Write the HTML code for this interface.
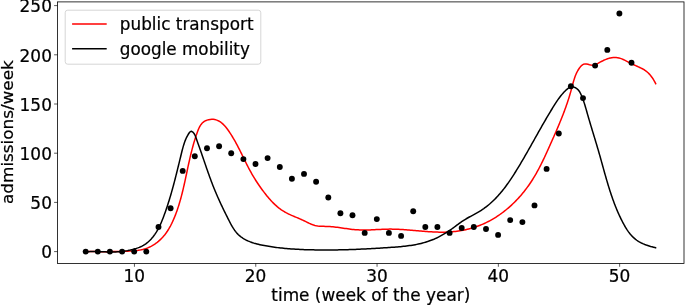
<!DOCTYPE html>
<html><head><meta charset="utf-8"><title>admissions per week</title>
<style>html,body{margin:0;padding:0;background:#fff}svg{display:block}text{font-family:"DejaVu Sans","Liberation Sans",sans-serif;fill:#000;stroke:#000;stroke-width:0.22px}</style></head>
<body>
<svg width="685" height="305" viewBox="0 0 685 305">
<rect width="685" height="305" fill="#fff"/>
<path d="M85.68 251.59 L87.21 251.59 L88.73 251.60 L90.24 251.60 L91.75 251.61 L93.26 251.62 L94.76 251.62 L96.26 251.63 L97.76 251.63 L99.25 251.64 L100.75 251.64 L102.24 251.65 L103.73 251.65 L105.22 251.65 L106.70 251.64 L108.19 251.64 L109.68 251.63 L111.17 251.61 L112.65 251.60 L114.14 251.58 L115.63 251.55 L117.13 251.53 L118.62 251.49 L120.12 251.46 L121.62 251.41 L123.12 251.37 L124.63 251.31 L126.14 251.25 L127.65 251.19 L129.17 251.11 L130.69 251.03 L132.21 250.93 L133.73 250.81 L135.25 250.67 L136.76 250.51 L138.26 250.31 L139.75 250.07 L141.22 249.79 L142.69 249.47 L144.13 249.09 L145.55 248.67 L146.95 248.18 L148.33 247.63 L149.68 247.03 L151.00 246.37 L152.30 245.66 L153.58 244.90 L154.82 244.09 L156.04 243.23 L157.22 242.33 L158.38 241.38 L159.51 240.39 L160.60 239.37 L161.66 238.31 L162.69 237.21 L163.68 236.08 L164.64 234.92 L165.56 233.73 L166.45 232.52 L167.30 231.28 L168.12 230.01 L168.91 228.73 L169.66 227.43 L170.39 226.11 L171.09 224.77 L171.77 223.42 L172.42 222.05 L173.04 220.68 L173.65 219.30 L174.24 217.90 L174.81 216.51 L175.36 215.11 L175.89 213.70 L176.42 212.29 L176.92 210.88 L177.41 209.46 L177.89 208.05 L178.36 206.62 L178.81 205.20 L179.25 203.77 L179.68 202.34 L180.09 200.90 L180.50 199.47 L180.90 198.03 L181.28 196.58 L181.66 195.14 L182.03 193.69 L182.39 192.25 L182.75 190.79 L183.10 189.34 L183.44 187.89 L183.77 186.43 L184.11 184.97 L184.43 183.52 L184.75 182.06 L185.07 180.59 L185.39 179.13 L185.70 177.67 L186.02 176.21 L186.33 174.74 L186.64 173.28 L186.95 171.81 L187.26 170.34 L187.57 168.88 L187.88 167.41 L188.20 165.94 L188.51 164.48 L188.83 163.01 L189.16 161.55 L189.49 160.08 L189.82 158.62 L190.16 157.15 L190.50 155.69 L190.85 154.23 L191.21 152.77 L191.57 151.31 L191.95 149.85 L192.33 148.39 L192.72 146.94 L193.12 145.48 L193.53 144.03 L193.95 142.58 L194.38 141.13 L194.82 139.69 L195.28 138.24 L195.75 136.80 L196.23 135.36 L196.73 133.92 L197.24 132.49 L197.77 131.06 L198.32 129.64 L198.91 128.26 L199.57 126.92 L200.30 125.64 L201.12 124.43 L202.04 123.32 L203.09 122.32 L204.28 121.44 L205.62 120.70 L207.09 120.11 L208.64 119.67 L210.22 119.39 L211.77 119.27 L213.27 119.32 L214.70 119.52 L216.08 119.87 L217.40 120.35 L218.67 120.95 L219.89 121.67 L221.07 122.49 L222.20 123.40 L223.28 124.40 L224.33 125.47 L225.34 126.60 L226.32 127.78 L227.27 129.01 L228.18 130.26 L229.07 131.54 L229.94 132.83 L230.78 134.13 L231.60 135.43 L232.41 136.73 L233.19 138.04 L233.96 139.35 L234.71 140.66 L235.45 141.98 L236.17 143.30 L236.89 144.63 L237.59 145.95 L238.28 147.28 L238.96 148.61 L239.63 149.94 L240.30 151.27 L240.96 152.61 L241.62 153.94 L242.27 155.27 L242.93 156.60 L243.58 157.94 L244.23 159.27 L244.89 160.60 L245.55 161.93 L246.21 163.26 L246.87 164.58 L247.55 165.91 L248.23 167.23 L248.92 168.55 L249.62 169.86 L250.33 171.17 L251.06 172.48 L251.79 173.79 L252.54 175.09 L253.31 176.38 L254.08 177.67 L254.87 178.95 L255.67 180.23 L256.49 181.51 L257.31 182.77 L258.15 184.03 L259.00 185.28 L259.86 186.53 L260.74 187.76 L261.62 188.99 L262.51 190.21 L263.42 191.42 L264.34 192.63 L265.26 193.82 L266.20 195.00 L267.15 196.17 L268.11 197.33 L269.08 198.47 L270.07 199.60 L271.08 200.71 L272.10 201.80 L273.14 202.86 L274.20 203.90 L275.28 204.92 L276.38 205.91 L277.50 206.88 L278.64 207.81 L279.81 208.71 L281.00 209.58 L282.22 210.42 L283.47 211.22 L284.74 211.98 L286.04 212.70 L287.37 213.39 L288.71 214.05 L290.08 214.69 L291.46 215.31 L292.85 215.92 L294.25 216.51 L295.65 217.09 L297.06 217.68 L298.47 218.26 L299.88 218.86 L301.28 219.46 L302.66 220.08 L304.04 220.72 L305.40 221.38 L306.76 222.05 L308.10 222.71 L309.45 223.36 L310.80 223.97 L312.16 224.53 L313.54 225.03 L314.94 225.45 L316.37 225.78 L317.83 226.01 L319.31 226.17 L320.81 226.26 L322.32 226.32 L323.85 226.35 L325.37 226.38 L326.90 226.41 L328.42 226.47 L329.93 226.55 L331.44 226.67 L332.95 226.80 L334.45 226.96 L335.94 227.14 L337.43 227.33 L338.92 227.53 L340.41 227.74 L341.89 227.96 L343.37 228.18 L344.85 228.40 L346.33 228.61 L347.81 228.82 L349.29 229.02 L350.77 229.21 L352.25 229.39 L353.74 229.54 L355.23 229.68 L356.71 229.79 L358.21 229.87 L359.70 229.94 L361.20 229.98 L362.69 230.01 L364.19 230.01 L365.69 230.01 L367.19 229.98 L368.69 229.95 L370.19 229.90 L371.69 229.84 L373.18 229.77 L374.68 229.70 L376.17 229.62 L377.67 229.54 L379.16 229.46 L380.65 229.39 L382.14 229.32 L383.64 229.25 L385.13 229.20 L386.62 229.16 L388.12 229.13 L389.61 229.12 L391.10 229.12 L392.60 229.14 L394.09 229.17 L395.59 229.22 L397.09 229.28 L398.58 229.34 L400.08 229.42 L401.58 229.51 L403.07 229.61 L404.57 229.71 L406.07 229.82 L407.57 229.93 L409.07 230.06 L410.57 230.18 L412.06 230.31 L413.56 230.44 L415.06 230.57 L416.56 230.70 L418.06 230.83 L419.56 230.96 L421.06 231.09 L422.56 231.22 L424.05 231.34 L425.55 231.46 L427.05 231.57 L428.55 231.67 L430.05 231.77 L431.55 231.86 L433.04 231.94 L434.54 232.00 L436.04 232.06 L437.53 232.11 L439.03 232.14 L440.53 232.16 L442.02 232.17 L443.52 232.16 L445.01 232.13 L446.51 232.09 L448.00 232.03 L449.49 231.95 L450.99 231.85 L452.48 231.73 L453.97 231.58 L455.46 231.42 L456.95 231.23 L458.43 231.03 L459.92 230.80 L461.40 230.55 L462.88 230.27 L464.35 229.98 L465.82 229.66 L467.28 229.32 L468.74 228.96 L470.20 228.58 L471.64 228.17 L473.08 227.74 L474.52 227.29 L475.94 226.81 L477.36 226.31 L478.77 225.79 L480.17 225.25 L481.56 224.68 L482.94 224.09 L484.31 223.48 L485.67 222.85 L487.02 222.19 L488.36 221.51 L489.68 220.81 L491.00 220.09 L492.30 219.35 L493.60 218.59 L494.88 217.81 L496.15 217.01 L497.41 216.19 L498.65 215.35 L499.89 214.50 L501.11 213.63 L502.32 212.74 L503.52 211.84 L504.70 210.92 L505.87 209.98 L507.03 209.03 L508.17 208.06 L509.30 207.08 L510.42 206.09 L511.53 205.08 L512.62 204.06 L513.70 203.02 L514.77 201.97 L515.82 200.90 L516.86 199.83 L517.88 198.74 L518.90 197.63 L519.89 196.52 L520.88 195.39 L521.85 194.25 L522.81 193.10 L523.76 191.94 L524.69 190.77 L525.61 189.58 L526.51 188.39 L527.40 187.18 L528.28 185.96 L529.15 184.74 L530.00 183.50 L530.83 182.26 L531.66 181.00 L532.47 179.74 L533.26 178.47 L534.04 177.19 L534.81 175.90 L535.57 174.60 L536.32 173.30 L537.05 171.99 L537.77 170.67 L538.48 169.35 L539.19 168.02 L539.88 166.69 L540.57 165.35 L541.24 164.00 L541.91 162.65 L542.57 161.30 L543.23 159.95 L543.88 158.59 L544.52 157.22 L545.16 155.86 L545.79 154.49 L546.42 153.13 L547.04 151.76 L547.66 150.39 L548.28 149.01 L548.90 147.64 L549.51 146.27 L550.13 144.90 L550.74 143.53 L551.35 142.16 L551.96 140.79 L552.57 139.42 L553.17 138.06 L553.78 136.69 L554.38 135.32 L554.98 133.95 L555.58 132.58 L556.17 131.21 L556.76 129.84 L557.35 128.47 L557.93 127.09 L558.51 125.72 L559.09 124.34 L559.66 122.96 L560.23 121.58 L560.79 120.20 L561.35 118.82 L561.90 117.43 L562.45 116.04 L562.99 114.65 L563.53 113.25 L564.06 111.86 L564.58 110.46 L565.09 109.05 L565.60 107.64 L566.11 106.23 L566.60 104.82 L567.09 103.40 L567.57 101.97 L568.04 100.54 L568.51 99.11 L568.96 97.67 L569.41 96.23 L569.85 94.78 L570.28 93.33 L570.70 91.87 L571.11 90.41 L571.51 88.94 L571.90 87.46 L572.29 85.98 L572.68 84.51 L573.08 83.03 L573.48 81.57 L573.91 80.11 L574.36 78.67 L574.84 77.25 L575.35 75.84 L575.91 74.46 L576.50 73.11 L577.16 71.78 L577.86 70.49 L578.63 69.24 L579.47 68.02 L580.38 66.85 L581.37 65.75 L582.46 64.81 L583.67 64.15 L585.00 63.88 L586.44 63.99 L587.96 64.32 L589.51 64.72 L591.04 65.05 L592.52 65.15 L593.93 64.99 L595.28 64.61 L596.61 64.06 L597.91 63.40 L599.22 62.67 L600.54 61.94 L601.89 61.23 L603.26 60.55 L604.65 59.91 L606.06 59.33 L607.48 58.81 L608.91 58.35 L610.35 57.98 L611.80 57.70 L613.24 57.51 L614.69 57.44 L616.13 57.48 L617.56 57.65 L618.98 57.96 L620.39 58.37 L621.80 58.89 L623.20 59.49 L624.59 60.15 L625.98 60.85 L627.37 61.58 L628.76 62.32 L630.15 63.05 L631.53 63.75 L632.92 64.41 L634.31 65.04 L635.69 65.64 L637.06 66.24 L638.41 66.84 L639.75 67.45 L641.07 68.08 L642.36 68.76 L643.62 69.47 L644.85 70.25 L646.04 71.09 L647.19 72.02 L648.30 73.03 L649.36 74.11 L650.37 75.26 L651.33 76.46 L652.24 77.70 L653.10 78.98 L653.89 80.28 L654.63 81.59 L655.31 82.90 L655.92 84.20 L655.97 84.30" fill="none" stroke="#ff0000" stroke-width="1.5" stroke-linejoin="round"/>
<path d="M85.71 251.78 L87.18 251.69 L88.66 251.63 L90.14 251.59 L91.63 251.57 L93.13 251.57 L94.63 251.58 L96.14 251.60 L97.64 251.63 L99.16 251.67 L100.67 251.71 L102.19 251.75 L103.70 251.80 L105.22 251.84 L106.73 251.88 L108.25 251.91 L109.76 251.93 L111.27 251.94 L112.77 251.94 L114.27 251.92 L115.77 251.88 L117.26 251.82 L118.74 251.74 L120.22 251.63 L121.68 251.49 L123.14 251.32 L124.59 251.12 L126.03 250.88 L127.47 250.62 L128.92 250.32 L130.37 250.00 L131.83 249.64 L133.32 249.26 L134.82 248.84 L136.33 248.40 L137.83 247.91 L139.29 247.36 L140.69 246.76 L142.05 246.10 L143.35 245.38 L144.61 244.61 L145.82 243.78 L146.99 242.91 L148.11 241.98 L149.19 241.02 L150.23 240.00 L151.23 238.95 L152.19 237.86 L153.11 236.72 L154.00 235.56 L154.86 234.36 L155.68 233.13 L156.47 231.87 L157.23 230.58 L157.97 229.27 L158.68 227.94 L159.36 226.59 L160.02 225.22 L160.66 223.83 L161.28 222.43 L161.88 221.01 L162.46 219.59 L163.02 218.16 L163.57 216.72 L164.11 215.28 L164.64 213.84 L165.15 212.40 L165.66 210.96 L166.15 209.52 L166.64 208.09 L167.12 206.65 L167.59 205.22 L168.06 203.78 L168.51 202.35 L168.96 200.92 L169.40 199.49 L169.83 198.06 L170.26 196.63 L170.68 195.20 L171.10 193.78 L171.51 192.35 L171.91 190.92 L172.31 189.49 L172.71 188.06 L173.10 186.63 L173.48 185.20 L173.86 183.77 L174.24 182.33 L174.62 180.90 L174.99 179.46 L175.35 178.03 L175.72 176.59 L176.08 175.15 L176.45 173.71 L176.81 172.26 L177.16 170.82 L177.52 169.37 L177.88 167.92 L178.24 166.47 L178.59 165.01 L178.95 163.56 L179.30 162.10 L179.66 160.63 L180.02 159.17 L180.38 157.70 L180.74 156.22 L181.10 154.75 L181.46 153.26 L181.83 151.78 L182.20 150.30 L182.59 148.82 L182.99 147.34 L183.41 145.87 L183.86 144.41 L184.33 142.97 L184.84 141.54 L185.38 140.13 L185.96 138.75 L186.59 137.39 L187.27 136.06 L188.00 134.76 L188.79 133.49 L189.65 132.29 L190.59 131.45 L191.66 131.35 L192.79 132.03 L193.82 133.16 L194.66 134.50 L195.34 135.97 L195.92 137.50 L196.45 139.03 L196.97 140.51 L197.49 141.96 L197.99 143.38 L198.49 144.78 L198.99 146.16 L199.48 147.54 L199.97 148.92 L200.45 150.30 L200.94 151.69 L201.42 153.09 L201.90 154.49 L202.39 155.89 L202.87 157.30 L203.35 158.71 L203.84 160.13 L204.32 161.54 L204.81 162.96 L205.29 164.38 L205.78 165.81 L206.27 167.23 L206.76 168.66 L207.26 170.08 L207.76 171.51 L208.26 172.93 L208.77 174.36 L209.28 175.78 L209.79 177.20 L210.31 178.61 L210.83 180.03 L211.36 181.44 L211.89 182.85 L212.43 184.25 L212.98 185.65 L213.53 187.05 L214.09 188.44 L214.66 189.82 L215.23 191.20 L215.81 192.58 L216.39 193.95 L216.98 195.32 L217.58 196.69 L218.18 198.05 L218.79 199.41 L219.40 200.76 L220.02 202.12 L220.65 203.47 L221.28 204.82 L221.92 206.17 L222.56 207.52 L223.21 208.87 L223.86 210.22 L224.52 211.57 L225.18 212.91 L225.85 214.26 L226.52 215.61 L227.20 216.96 L227.88 218.32 L228.56 219.67 L229.25 221.03 L229.95 222.38 L230.66 223.73 L231.39 225.06 L232.14 226.38 L232.92 227.68 L233.73 228.94 L234.57 230.18 L235.45 231.37 L236.38 232.53 L237.36 233.63 L238.39 234.69 L239.48 235.68 L240.63 236.62 L241.83 237.49 L243.08 238.31 L244.36 239.08 L245.69 239.80 L247.04 240.47 L248.42 241.09 L249.81 241.67 L251.22 242.20 L252.64 242.70 L254.06 243.16 L255.50 243.58 L256.94 243.98 L258.39 244.35 L259.85 244.69 L261.31 245.01 L262.78 245.31 L264.25 245.59 L265.73 245.86 L267.20 246.11 L268.68 246.36 L270.16 246.59 L271.65 246.82 L273.13 247.03 L274.61 247.24 L276.10 247.43 L277.59 247.62 L279.08 247.79 L280.57 247.96 L282.06 248.12 L283.55 248.27 L285.05 248.41 L286.54 248.55 L288.04 248.68 L289.54 248.79 L291.03 248.91 L292.53 249.01 L294.03 249.11 L295.53 249.20 L297.03 249.29 L298.53 249.37 L300.03 249.44 L301.53 249.51 L303.03 249.57 L304.53 249.63 L306.03 249.68 L307.53 249.72 L309.03 249.77 L310.53 249.81 L312.03 249.84 L313.53 249.87 L315.03 249.90 L316.53 249.92 L318.03 249.94 L319.53 249.96 L321.02 249.97 L322.52 249.98 L324.02 249.98 L325.52 249.99 L327.01 249.98 L328.51 249.98 L330.01 249.97 L331.50 249.96 L333.00 249.95 L334.49 249.93 L335.99 249.91 L337.49 249.88 L338.98 249.86 L340.48 249.83 L341.97 249.79 L343.47 249.76 L344.96 249.72 L346.46 249.68 L347.95 249.64 L349.45 249.59 L350.95 249.54 L352.44 249.49 L353.94 249.43 L355.43 249.38 L356.93 249.32 L358.43 249.25 L359.92 249.19 L361.42 249.12 L362.92 249.05 L364.41 248.98 L365.91 248.91 L367.41 248.83 L368.91 248.75 L370.40 248.67 L371.90 248.59 L373.40 248.51 L374.90 248.42 L376.40 248.33 L377.90 248.24 L379.40 248.15 L380.90 248.05 L382.40 247.96 L383.91 247.86 L385.41 247.76 L386.91 247.66 L388.42 247.56 L389.92 247.46 L391.42 247.35 L392.93 247.24 L394.43 247.13 L395.94 247.01 L397.44 246.89 L398.95 246.77 L400.45 246.63 L401.95 246.49 L403.44 246.33 L404.94 246.17 L406.43 246.00 L407.92 245.81 L409.41 245.61 L410.89 245.39 L412.37 245.16 L413.85 244.92 L415.32 244.65 L416.79 244.37 L418.25 244.07 L419.70 243.74 L421.15 243.40 L422.59 243.03 L424.03 242.64 L425.46 242.23 L426.88 241.79 L428.30 241.33 L429.71 240.83 L431.11 240.31 L432.50 239.76 L433.88 239.19 L435.25 238.58 L436.62 237.96 L437.97 237.30 L439.31 236.63 L440.64 235.93 L441.96 235.21 L443.27 234.47 L444.56 233.71 L445.85 232.92 L447.11 232.12 L448.37 231.31 L449.61 230.47 L450.83 229.62 L452.04 228.75 L453.25 227.88 L454.44 226.99 L455.63 226.11 L456.82 225.22 L458.02 224.34 L459.22 223.46 L460.43 222.59 L461.65 221.74 L462.89 220.90 L464.14 220.08 L465.42 219.29 L466.72 218.52 L468.03 217.76 L469.36 217.02 L470.70 216.29 L472.04 215.56 L473.39 214.84 L474.73 214.11 L476.07 213.37 L477.39 212.63 L478.70 211.86 L480.00 211.08 L481.27 210.28 L482.53 209.45 L483.76 208.60 L484.97 207.72 L486.16 206.83 L487.34 205.91 L488.49 204.97 L489.63 204.02 L490.74 203.04 L491.84 202.05 L492.93 201.03 L493.99 200.00 L495.04 198.95 L496.08 197.89 L497.10 196.81 L498.10 195.71 L499.09 194.60 L500.07 193.48 L501.03 192.34 L501.98 191.19 L502.91 190.03 L503.84 188.85 L504.75 187.67 L505.65 186.47 L506.54 185.26 L507.42 184.05 L508.29 182.82 L509.15 181.59 L510.01 180.35 L510.85 179.10 L511.68 177.84 L512.51 176.58 L513.33 175.31 L514.14 174.04 L514.95 172.77 L515.75 171.49 L516.55 170.20 L517.34 168.92 L518.12 167.63 L518.90 166.34 L519.68 165.05 L520.45 163.76 L521.22 162.46 L521.99 161.17 L522.75 159.87 L523.51 158.57 L524.26 157.27 L525.01 155.97 L525.76 154.67 L526.51 153.36 L527.26 152.06 L528.00 150.75 L528.74 149.45 L529.48 148.14 L530.22 146.84 L530.95 145.53 L531.69 144.22 L532.42 142.92 L533.16 141.61 L533.89 140.30 L534.62 139.00 L535.35 137.69 L536.09 136.39 L536.82 135.08 L537.55 133.78 L538.29 132.47 L539.02 131.17 L539.76 129.87 L540.49 128.57 L541.23 127.27 L541.97 125.97 L542.71 124.67 L543.46 123.37 L544.20 122.08 L544.95 120.79 L545.70 119.50 L546.45 118.21 L547.21 116.92 L547.97 115.63 L548.73 114.35 L549.50 113.07 L550.27 111.79 L551.04 110.51 L551.82 109.24 L552.60 107.97 L553.39 106.70 L554.18 105.44 L554.98 104.17 L555.79 102.92 L556.61 101.67 L557.45 100.42 L558.31 99.19 L559.19 97.97 L560.10 96.76 L561.04 95.56 L562.02 94.38 L563.03 93.21 L564.07 92.06 L565.17 90.93 L566.30 89.83 L567.49 88.83 L568.71 87.96 L569.98 87.31 L571.29 86.92 L572.65 86.85 L574.03 87.13 L575.39 87.71 L576.69 88.54 L577.87 89.56 L578.90 90.73 L579.76 91.99 L580.48 93.32 L581.11 94.69 L581.70 96.08 L582.26 97.47 L582.80 98.88 L583.31 100.29 L583.80 101.70 L584.27 103.13 L584.72 104.56 L585.16 105.99 L585.59 107.42 L586.01 108.86 L586.42 110.30 L586.83 111.74 L587.24 113.19 L587.64 114.63 L588.05 116.07 L588.47 117.51 L588.89 118.95 L589.31 120.39 L589.73 121.83 L590.16 123.26 L590.59 124.70 L591.02 126.14 L591.45 127.57 L591.89 129.01 L592.32 130.44 L592.76 131.88 L593.19 133.31 L593.63 134.75 L594.07 136.18 L594.51 137.62 L594.94 139.05 L595.38 140.49 L595.81 141.93 L596.24 143.36 L596.67 144.80 L597.10 146.24 L597.53 147.68 L597.95 149.12 L598.37 150.56 L598.79 152.00 L599.20 153.44 L599.61 154.89 L600.02 156.33 L600.43 157.78 L600.83 159.22 L601.23 160.67 L601.63 162.11 L602.04 163.56 L602.44 165.01 L602.84 166.45 L603.24 167.90 L603.64 169.35 L604.04 170.79 L604.44 172.24 L604.85 173.68 L605.26 175.13 L605.67 176.57 L606.08 178.01 L606.50 179.45 L606.92 180.89 L607.34 182.33 L607.77 183.76 L608.20 185.20 L608.64 186.63 L609.08 188.06 L609.53 189.49 L609.99 190.92 L610.45 192.34 L610.92 193.76 L611.39 195.18 L611.88 196.60 L612.37 198.01 L612.87 199.42 L613.38 200.83 L613.90 202.23 L614.43 203.64 L614.96 205.03 L615.51 206.43 L616.07 207.82 L616.64 209.21 L617.22 210.59 L617.81 211.97 L618.42 213.34 L619.04 214.71 L619.67 216.08 L620.31 217.44 L620.97 218.80 L621.64 220.15 L622.32 221.50 L623.02 222.84 L623.74 224.17 L624.47 225.50 L625.23 226.80 L626.01 228.10 L626.81 229.37 L627.65 230.62 L628.51 231.84 L629.41 233.03 L630.34 234.18 L631.30 235.31 L632.31 236.39 L633.36 237.43 L634.45 238.42 L635.59 239.36 L636.77 240.25 L638.01 241.09 L639.30 241.87 L640.63 242.59 L641.99 243.27 L643.39 243.89 L644.82 244.47 L646.26 245.01 L647.71 245.51 L649.17 245.98 L650.62 246.42 L652.07 246.82 L653.50 247.20 L654.91 247.56 L656.28 247.90" fill="none" stroke="#000" stroke-width="1.5" stroke-linejoin="round"/>
<g fill="#000">
<circle cx="85.7" cy="251.6" r="2.95"/>
<circle cx="97.8" cy="251.6" r="2.95"/>
<circle cx="109.9" cy="251.6" r="2.95"/>
<circle cx="122.1" cy="251.6" r="2.95"/>
<circle cx="134.2" cy="251.6" r="2.95"/>
<circle cx="146.3" cy="251.6" r="2.95"/>
<circle cx="158.5" cy="227.0" r="2.95"/>
<circle cx="170.6" cy="208.3" r="2.95"/>
<circle cx="182.7" cy="170.9" r="2.95"/>
<circle cx="194.8" cy="156.2" r="2.95"/>
<circle cx="207.0" cy="148.3" r="2.95"/>
<circle cx="219.1" cy="146.3" r="2.95"/>
<circle cx="231.2" cy="153.2" r="2.95"/>
<circle cx="243.4" cy="159.1" r="2.95"/>
<circle cx="255.5" cy="164.0" r="2.95"/>
<circle cx="267.6" cy="158.1" r="2.95"/>
<circle cx="279.8" cy="167.0" r="2.95"/>
<circle cx="291.9" cy="178.8" r="2.95"/>
<circle cx="304.0" cy="173.9" r="2.95"/>
<circle cx="316.1" cy="181.7" r="2.95"/>
<circle cx="328.3" cy="197.5" r="2.95"/>
<circle cx="340.4" cy="213.2" r="2.95"/>
<circle cx="352.5" cy="215.2" r="2.95"/>
<circle cx="364.7" cy="232.9" r="2.95"/>
<circle cx="376.8" cy="219.1" r="2.95"/>
<circle cx="388.9" cy="232.9" r="2.95"/>
<circle cx="401.1" cy="235.9" r="2.95"/>
<circle cx="413.2" cy="211.3" r="2.95"/>
<circle cx="425.3" cy="227.0" r="2.95"/>
<circle cx="437.4" cy="227.0" r="2.95"/>
<circle cx="449.6" cy="232.9" r="2.95"/>
<circle cx="461.7" cy="228.0" r="2.95"/>
<circle cx="473.8" cy="227.0" r="2.95"/>
<circle cx="486.0" cy="229.0" r="2.95"/>
<circle cx="498.1" cy="234.9" r="2.95"/>
<circle cx="510.2" cy="220.1" r="2.95"/>
<circle cx="522.4" cy="222.1" r="2.95"/>
<circle cx="534.5" cy="205.4" r="2.95"/>
<circle cx="546.6" cy="168.9" r="2.95"/>
<circle cx="558.8" cy="133.5" r="2.95"/>
<circle cx="570.9" cy="86.3" r="2.95"/>
<circle cx="583.0" cy="98.1" r="2.95"/>
<circle cx="595.1" cy="65.6" r="2.95"/>
<circle cx="607.3" cy="49.9" r="2.95"/>
<circle cx="619.4" cy="13.5" r="2.95"/>
<circle cx="631.5" cy="62.7" r="2.95"/>
</g>
<rect x="57.5" y="1.9" width="626.5" height="261.6" fill="none" stroke="#000" stroke-width="0.8"/>
<g stroke="#000" stroke-width="0.65">
<line x1="134.45" y1="263.45" x2="134.45" y2="266.75"/>
<line x1="255.75" y1="263.45" x2="255.75" y2="266.75"/>
<line x1="377.05" y1="263.45" x2="377.05" y2="266.75"/>
<line x1="498.35" y1="263.45" x2="498.35" y2="266.75"/>
<line x1="619.65" y1="263.45" x2="619.65" y2="266.75"/>
<line x1="57.5" y1="251.6" x2="54.10" y2="251.6"/>
<line x1="57.5" y1="202.4" x2="54.10" y2="202.4"/>
<line x1="57.5" y1="153.2" x2="54.10" y2="153.2"/>
<line x1="57.5" y1="104.0" x2="54.10" y2="104.0"/>
<line x1="57.5" y1="54.8" x2="54.10" y2="54.8"/>
<line x1="57.5" y1="5.6" x2="54.10" y2="5.6"/>
</g>
<text transform="translate(134.30 282.20) scale(1.015 1.025)" font-size="16.67" text-anchor="middle">10</text>
<text transform="translate(255.60 282.20) scale(1.015 1.025)" font-size="16.67" text-anchor="middle">20</text>
<text transform="translate(376.90 282.20) scale(1.015 1.025)" font-size="16.67" text-anchor="middle">30</text>
<text transform="translate(498.20 282.20) scale(1.015 1.025)" font-size="16.67" text-anchor="middle">40</text>
<text transform="translate(619.50 282.20) scale(1.015 1.025)" font-size="16.67" text-anchor="middle">50</text>
<text transform="translate(51.90 258.40) scale(1.015 1.025)" font-size="16.67" text-anchor="end">0</text>
<text transform="translate(51.90 209.20) scale(1.015 1.025)" font-size="16.67" text-anchor="end">50</text>
<text transform="translate(51.90 160.00) scale(1.015 1.025)" font-size="16.67" text-anchor="end">100</text>
<text transform="translate(51.90 110.80) scale(1.015 1.025)" font-size="16.67" text-anchor="end">150</text>
<text transform="translate(51.90 61.60) scale(1.015 1.025)" font-size="16.67" text-anchor="end">200</text>
<text transform="translate(51.90 12.40) scale(1.015 1.025)" font-size="16.67" text-anchor="end">250</text>
<text transform="translate(370.80 301.40) scale(1.015 1.04)" font-size="16.67" text-anchor="middle">time (week of the year)</text>
<text transform="translate(13.00 132.10) rotate(-90) scale(1.009 1.0)" font-size="16.67" text-anchor="middle">admissions/week</text>
<rect x="65.2" y="10.2" width="195.6" height="54" rx="2.5" ry="2.5" fill="#fff" fill-opacity="0.8" stroke="#ccc" stroke-opacity="0.8" stroke-width="1"/>
<line x1="72.1" y1="24" x2="106.7" y2="24" stroke="#ff0000" stroke-width="1.5"/>
<line x1="72.1" y1="48.8" x2="106.7" y2="48.8" stroke="#000" stroke-width="1.5"/>
<text transform="translate(119.80 30.00) scale(1.01 1.01)" font-size="16.67" text-anchor="start">public transport</text>
<text transform="translate(119.80 54.90) scale(1.008 1.01)" font-size="16.67" text-anchor="start">google mobility</text>
</svg>
</body></html>
